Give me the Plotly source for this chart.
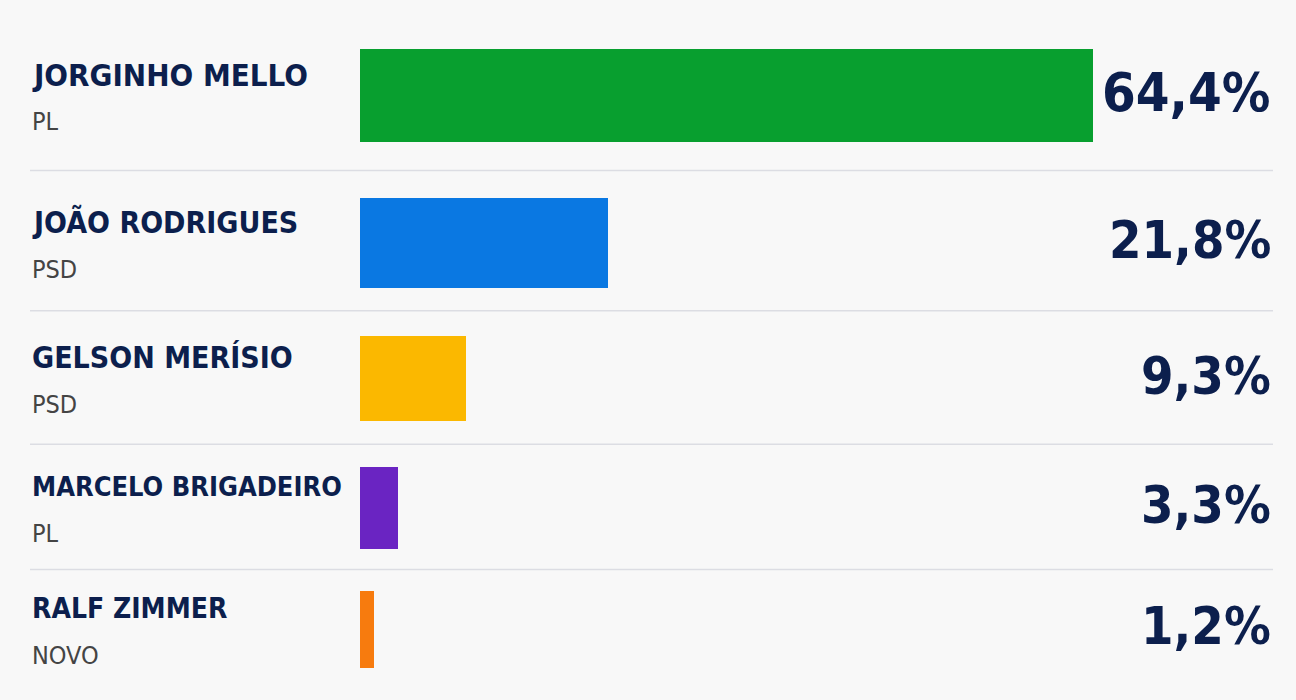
import plotly.graph_objects as go

candidates = ["JORGINHO MELLO", "JOÃO RODRIGUES", "GELSON MERÍSIO", "MARCELO BRIGADEIRO", "RALF ZIMMER"]
parties = ["PL", "PSD", "PSD", "PL", "NOVO"]
shares = [64.4, 21.8, 9.3, 3.3, 1.2]

# styling (not data)
colors = ["#089f2f", "#0a78e2", "#fbb800", "#6a24c2", "#f77b0e"]
bar_widths = [0.70, 0.67, 0.64, 0.61, 0.58]
pct_sizes = [54, 52, 52, 52, 52]
name_sizes = [31, 30, 30, 27, 28]
row_nudge_px = [0, 14, 16, 12, 0]
sep_nudge_px = [8, 15, 15, 7]

NAVY = "#0c1f4d"
FONT = "DejaVu Sans Condensed, sans-serif"

W, H = 1296, 700
ML, MR, MT, MB = 360, 23, 29, 4
plot_w = W - ML - MR
row_px = (H - MT - MB) / len(candidates)
name_x = (30 - ML) / plot_w

fig = go.Figure()
fig.add_trace(go.Bar(
    x=shares,
    y=candidates,
    orientation="h",
    marker=dict(color=colors, line=dict(width=0)),
    width=bar_widths,
    offset=[-w / 2 + n / row_px for w, n in zip(bar_widths, row_nudge_px)],
    hoverinfo="skip",
))

annotations = []
shapes = []
for i, (c, p, s) in enumerate(zip(candidates, parties, shares)):
    n = row_nudge_px[i]
    annotations.append(dict(
        x=name_x, xref="paper", y=c, yref="y", xanchor="left", yanchor="middle",
        yshift=21 - n, text=f"<b>{c}</b>", showarrow=False,
        font=dict(family=FONT, size=name_sizes[i], color=NAVY),
    ))
    annotations.append(dict(
        x=name_x, xref="paper", y=c, yref="y", xanchor="left", yanchor="middle",
        yshift=-26 - n, text=p, showarrow=False,
        font=dict(family=FONT, size=25, color="#444444"),
    ))
    annotations.append(dict(
        x=1, xref="paper", y=c, yref="y", xanchor="right", yanchor="middle",
        yshift=3 - n, text="<b>" + f"{s:.1f}".replace(".", ",") + "%</b>", showarrow=False,
        font=dict(family=FONT, size=pct_sizes[i], color=NAVY),
    ))
    if i < len(candidates) - 1:
        ys = i + 0.5 + sep_nudge_px[i] / row_px
        shapes.append(dict(
            type="line", xref="paper", yref="y",
            x0=name_x, x1=1.0, y0=ys, y1=ys,
            line=dict(color="#dcdde3", width=1.5),
        ))

fig.update_layout(
    width=W, height=H,
    margin=dict(l=ML, r=MR, t=MT, b=MB),
    paper_bgcolor="#f8f8f8",
    plot_bgcolor="#f8f8f8",
    showlegend=False,
    bargap=0,
    xaxis=dict(range=[0, 80.2], visible=False, fixedrange=True),
    yaxis=dict(autorange="reversed", visible=False, fixedrange=True),
    annotations=annotations,
    shapes=shapes,
)

fig.write_html(
    "out.html",
    config={"displayModeBar": False},
    post_script="document.body.style.margin='0';document.body.style.background='#f8f8f8';document.body.style.overflow='hidden';",
)
